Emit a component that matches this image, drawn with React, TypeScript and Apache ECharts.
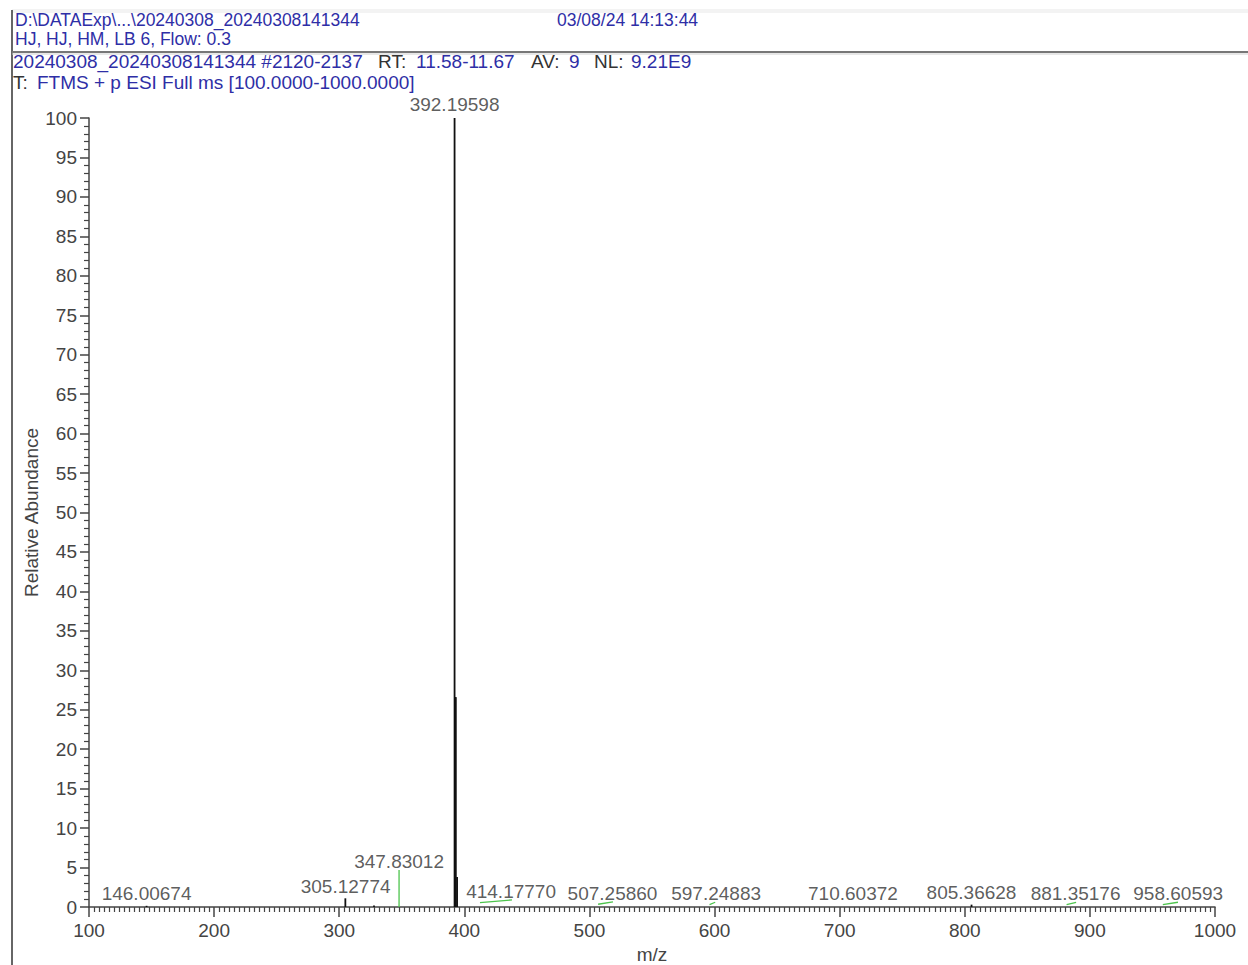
import React, { useEffect, useRef } from "react";
import * as echarts from "echarts";

// ---- data ----
const stickMz = [146.00674, 304.9, 327.8, 392.19598, 392.6, 393.2, 394.2, 805.4];
const stickIntensity = [0.15, 1.1, 0.2, 100, 26.6, 26.6, 3.8, 0.3];

const greenStartMz = [347.83012, 412.5, 506.9, 596.0, 881.4, 958.3];
const greenStartInt = [0, 0.55, 0.35, 0.3, 0.3, 0.3];
const greenEndMz = [347.83012, 438.1, 518.8, 600.5, 889.0, 970.4];
const greenEndInt = [4.7, 0.9, 0.65, 0.6, 0.6, 0.6];

const labelMz = [146.00674, 305.12774, 347.83012, 392.19598, 414.1777, 507.2586, 597.24883, 710.60372, 805.36628, 881.35176, 958.60593];
const labelIntensity = [0.15, 1.1, 4.7, 100, 0.55, 0.35, 0.3, 0, 0.3, 0.3, 0.3];
const labelText = ["146.00674", "305.12774", "347.83012", "392.19598", "414.17770", "507.25860", "597.24883", "710.60372", "805.36628", "881.35176", "958.60593"];
// label placement (pixels): horizontal shift and distance above the point
const labelDx = [0, 0, 0, 0, 29, 14, 5, 0, 0, 9, 15];
const labelDist = [3, 2, -1, 4, 2, 1, 2, 4, 3, 2, 2];

const xTicks = { min: 100, max: 1000, interval: 100 };
const yTicks = { min: 0, max: 100, interval: 5 };

const BLUE = "#2e2ea6";
const DARK = "#333333";
const FONT = "Liberation Sans, Arial, sans-serif";

export default function App() {
  const ref = useRef<HTMLDivElement>(null);
  useEffect(() => {
    if (!ref.current) return;
    const chart = echarts.init(ref.current, null, { renderer: "svg" });

    const stickData = stickMz.map((m, i) => [m, 0, m, stickIntensity[i]]);
    const greenData = greenStartMz.map((m, i) => [m, greenStartInt[i], greenEndMz[i], greenEndInt[i]]);
    const labelData = labelMz.map((m, i) => ({
      value: [m, labelIntensity[i]],
      label: { distance: labelDist[i], offset: [labelDx[i], 0], formatter: labelText[i] },
    }));

    const seg = (color: string, width: number) => (params: any, api: any) => {
      const p1 = api.coord([api.value(0), api.value(1)]);
      const p2 = api.coord([api.value(2), api.value(3)]);
      return {
        type: "line",
        shape: { x1: p1[0], y1: p1[1], x2: p2[0], y2: p2[1] },
        style: { stroke: color, lineWidth: width },
      };
    };

    const txt = (x: number, y: number, text: string, fill: string, size: number) => ({
      type: "text",
      left: x,
      top: y,
      style: { text, fill, font: `${size}px ${FONT}` },
    });

    chart.setOption({
      animation: false,
      backgroundColor: "#ffffff",
      textStyle: { fontFamily: FONT },
      grid: { left: 89, right: 33, top: 118, bottom: 58, containLabel: false, outerBoundsMode: "none" },
      xAxis: {
        type: "value",
        min: xTicks.min,
        max: xTicks.max,
        interval: xTicks.interval,
        name: "m/z",
        nameLocation: "middle",
        nameGap: 38,
        nameTextStyle: { fontSize: 19, color: "#444", fontFamily: FONT },
        axisLine: { show: true, lineStyle: { color: "#444", width: 1.5 } },
        axisTick: { show: true, length: 10, lineStyle: { color: "#444", width: 1.5 } },
        minorTick: { show: true, splitNumber: 25, length: 5, lineStyle: { color: "#444", width: 1.2 } },
        axisLabel: { fontSize: 19, color: "#444", margin: 14, fontFamily: FONT, formatter: (v: number) => String(v) },
        splitLine: { show: false },
      },
      yAxis: {
        type: "value",
        min: yTicks.min,
        max: yTicks.max,
        interval: yTicks.interval,
        name: "Relative Abundance",
        nameLocation: "middle",
        nameRotate: 90,
        nameGap: 48,
        nameMoveOverlap: false,
        nameTextStyle: { fontSize: 19, color: "#444", fontFamily: FONT },
        axisLine: { show: true, lineStyle: { color: "#444", width: 1.5 } },
        axisTick: { show: true, length: 9, lineStyle: { color: "#444", width: 1.5 } },
        minorTick: { show: true, splitNumber: 5, length: 5, lineStyle: { color: "#444", width: 1.2 } },
        axisLabel: { fontSize: 19, color: "#444", margin: 12, fontFamily: FONT },
        splitLine: { show: false },
      },
      series: [
        {
          type: "custom",
          renderItem: seg("#111111", 1.8),
          encode: { x: [0, 2], y: [1, 3] },
          data: stickData,
          silent: true,
        },
        {
          type: "custom",
          renderItem: seg("#4cc44c", 1.3),
          encode: { x: [0, 2], y: [1, 3] },
          data: greenData,
          silent: true,
        },
        {
          type: "scatter",
          symbolSize: 0,
          silent: true,
          data: labelData,
          label: {
            show: true,
            position: "top",
            fontSize: 19,
            color: DARK,
            fontFamily: FONT,
          },
        },
      ],
      graphic: [
        { type: "rect", shape: { x: 12, y: 9, width: 1236, height: 4 }, style: { fill: "#f3f3f3" } },
        { type: "line", shape: { x1: 12, y1: 10, x2: 12, y2: 965 }, style: { stroke: "#333", lineWidth: 1.5 } },
        { type: "line", shape: { x1: 12, y1: 52, x2: 1248, y2: 52 }, style: { stroke: "#777", lineWidth: 2 } },
        { type: "line", shape: { x1: 12, y1: 54, x2: 1248, y2: 54 }, style: { stroke: "#cfcfcf", lineWidth: 1 } },
        txt(15, 11, "D:\\DATAExp\\...\\20240308_20240308141344", BLUE, 17.5),
        txt(557, 11, "03/08/24 14:13:44", BLUE, 17.5),
        txt(15, 30, "HJ, HJ, HM, LB 6, Flow: 0.3", BLUE, 17.5),
        txt(13, 52, "20240308_20240308141344 #2120-2137", BLUE, 19),
        txt(378, 52, "RT:", DARK, 19),
        txt(416, 52, "11.58-11.67", BLUE, 19),
        txt(531, 52, "AV:", DARK, 19),
        txt(569, 52, "9", BLUE, 19),
        txt(594, 52, "NL:", DARK, 19),
        txt(631, 52, "9.21E9", BLUE, 19),
        txt(13, 73, "T:", DARK, 19),
        txt(37, 73, "FTMS + p ESI Full ms [100.0000-1000.0000]", BLUE, 19),
      ],
    });

    return () => chart.dispose();
  }, []);

  return (
    <div
      ref={ref}
      style={{ position: "fixed", left: 0, top: 0, width: 1248, height: 965, background: "#fff" }}
    />
  );
}
